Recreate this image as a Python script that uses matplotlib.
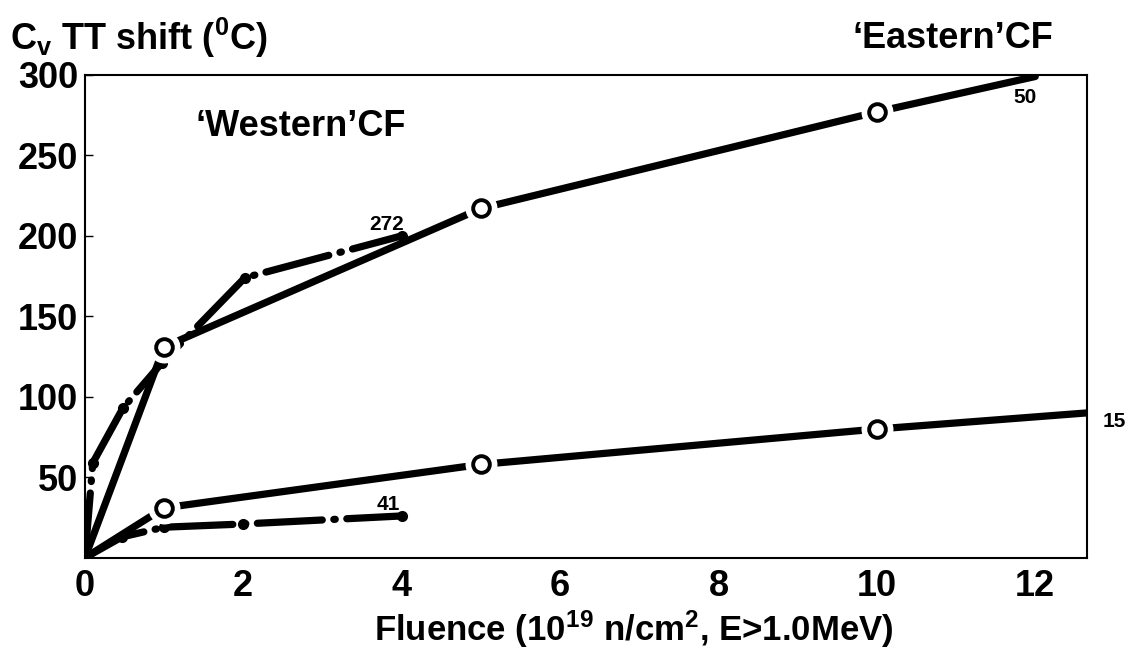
import numpy as np
import matplotlib
matplotlib.use("Agg")
import matplotlib.pyplot as plt

FONT = "Liberation Sans"
plt.rcParams["font.family"] = [FONT, "DejaVu Sans"]
plt.rcParams["font.weight"] = "bold"
plt.rcParams["axes.labelweight"] = "bold"
plt.rcParams["mathtext.fontset"] = "custom"
plt.rcParams["mathtext.rm"] = FONT + ":bold"
plt.rcParams["mathtext.it"] = FONT + ":bold"
plt.rcParams["mathtext.bf"] = FONT + ":bold"

# 'Eastern' CF, upper (label 50)
east50_x = [0, 1, 5, 10, 12]
east50_y = [0, 131, 217, 277, 299]
east50_circ_x = [1, 5, 10]
east50_circ_y = [131, 217, 277]

# 'Eastern' CF, lower (label 15)
east15_x = [0, 1, 5, 10, 12.65]
east15_y = [0, 31, 58, 80, 90]
east15_circ_x = [1, 5, 10]
east15_circ_y = [31, 58, 80]

# 'Western' CF, upper (label 272)
west272_x = [0, 0.1, 0.48, 0.97, 2.02, 4.0]
west272_y = [0, 59, 93, 121, 174, 200]

# 'Western' CF, lower (label 41)
west41_x = [0, 0.47, 1.0, 2.0, 4.0]
west41_y = [0, 13, 19, 21, 26]

xticks = [0, 2, 4, 6, 8, 10, 12]
yticks = [50, 100, 150, 200, 250, 300]

fig = plt.figure(figsize=(11.32, 6.57), dpi=100)
ax = fig.add_axes([0.075, 0.151, 0.885, 0.735])

lw = 5.2
dash = (0, (9, 1.6, 0.2, 1.6))

ax.plot(east50_x, east50_y, color="k", lw=lw, solid_capstyle="round", zorder=2)
ax.plot(east15_x, east15_y, color="k", lw=lw, solid_capstyle="round", zorder=2)
ax.plot(west272_x, west272_y, color="k", lw=lw, ls=dash, dash_capstyle="round",
        marker="o", ms=7, zorder=2)
ax.plot(west41_x, west41_y, color="k", lw=lw, ls=dash, dash_capstyle="round",
        marker="o", ms=7, zorder=2)

for cx, cy in [(east50_circ_x, east50_circ_y), (east15_circ_x, east15_circ_y)]:
    ax.plot(cx, cy, ls="none", marker="o", ms=22, mfc="white", mec="white", zorder=3)
    ax.plot(cx, cy, ls="none", marker="o", ms=12, mfc="white", mec="k", mew=2.8, zorder=4)

ax.set_xlim(0, 12.65)
ax.set_ylim(0, 300)
ax.set_xticks(xticks)
ax.set_yticks(yticks)
ax.tick_params(axis="x", length=0, pad=8, labelsize=26)
ax.tick_params(axis="y", direction="in", length=6, width=1, pad=5, labelsize=26)
for s in ax.spines.values():
    s.set_linewidth(1.5)

ax.text(3.81, 207, "272", fontsize=15, ha="center", va="center")
ax.text(3.83, 33, "41", fontsize=15, ha="center", va="center")
ax.text(11.87, 286, "50", fontsize=15, ha="center", va="center")
ax.text(13.0, 84.5, "15", fontsize=15, ha="center", va="center", clip_on=False)

ax.text(1.4, 268, "\u2018Western\u2019CF", fontsize=26, ha="left", va="center")
fig.text(0.842, 0.942, "\u2018Eastern\u2019CF", fontsize=26, ha="center", va="center")
fig.text(0.009, 0.942, r"C$_v$ TT shift ($^0$C)", fontsize=26, ha="left", va="center")
ax.set_xlabel(r"Fluence (10$^{19}$ n/cm$^2$, E>1.0MeV)", fontsize=25)
ax.xaxis.set_label_coords(0.548, -0.105)

fig.savefig("out.png", dpi=100)
